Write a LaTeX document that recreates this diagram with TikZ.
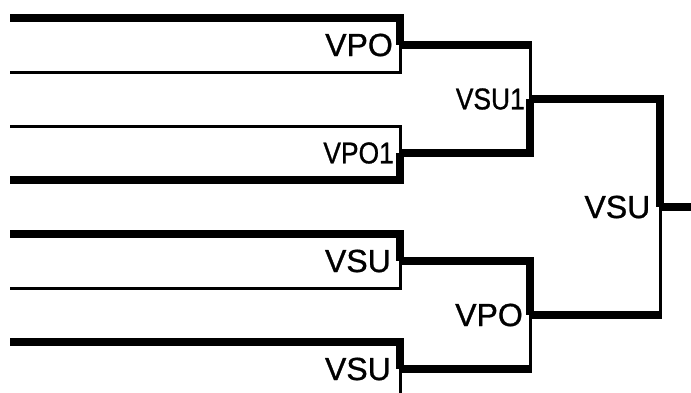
\documentclass[tikz,border=0pt]{standalone}
\usepackage{fontspec}
\usepackage{graphicx}
\newfontfamily\lblfont[FakeBold=1]{Liberation Sans}
\tikzset{
  win/.style={line width=8pt},
  lose/.style={line width=3pt},
  lbl/.style={font=\lblfont\fontsize{32}{32}\selectfont, inner sep=0pt, anchor=east, xshift=-7pt},
  lblsmall/.style={lbl, font=\lblfont\fontsize{30}{30}\selectfont}
}
\begin{document}
\begin{tikzpicture}[x=1pt,y=-1pt]
\useasboundingbox (0,0) rectangle (691,392);
\coordinate (a1) at (10,18);
\coordinate (b1) at (10,72);
\coordinate (a2) at (10,126);
\coordinate (b2) at (10,180);
\coordinate (a3) at (10,234);
\coordinate (b3) at (10,288);
\coordinate (a4) at (10,342);
\coordinate (b4) at (10,396);
\coordinate (m1) at (400,45);
\coordinate (m2) at (400,153);
\coordinate (m3) at (400,261);
\coordinate (m4) at (400,369);
\coordinate (s1) at (530,99);
\coordinate (s2) at (530,315);
\coordinate (f) at (660,207);
\coordinate (out) at (691,207);
\draw[lose] (b1) -| (m1);
\draw[win] (a1) -| (m1);
\draw[lose] (a2) -| (m2);
\draw[win] (b2) -| (m2);
\draw[lose] (b3) -| (m3);
\draw[win] (a3) -| (m3);
\draw[lose] (b4) -| (m4);
\draw[win] (a4) -| (m4);
\draw[lose] (m1 -| s1) -- (s1);
\draw[win, shorten >=-1.5pt] (m1) -- (m1 -| s1);
\draw[win] (m2) -| (s1);
\draw[lose] (m4 -| s2) -- (s2);
\draw[win, shorten >=-1.5pt] (m4) -- (m4 -| s2);
\draw[win] (m3) -| (s2);
\draw[lose] (s2 -| f) -- (f);
\draw[win, shorten >=-1.5pt] (s2) -- (s2 -| f);
\draw[win] (s1) -| (f);
\draw[win] (f) -- (out);
\node[lbl] (vpo) at (m1) {VPO};
\node[lblsmall, xshift=1pt] (vpoone) at (m2) {\scalebox{0.88}[1]{VPO1}};
\node[lbl, xshift=-2pt] (vsuA) at (m3) {VSU};
\node[lbl, xshift=-2pt] (vsuB) at (m4) {VSU};
\node[lblsmall, xshift=2pt] (vsuone) at (s1) {\scalebox{0.88}[1]{VSU1}};
\node[lbl] (vpoB) at (s2) {VPO};
\node[lbl, xshift=-2.5pt] (vsu) at (f) {VSU};
\end{tikzpicture}
\end{document}
